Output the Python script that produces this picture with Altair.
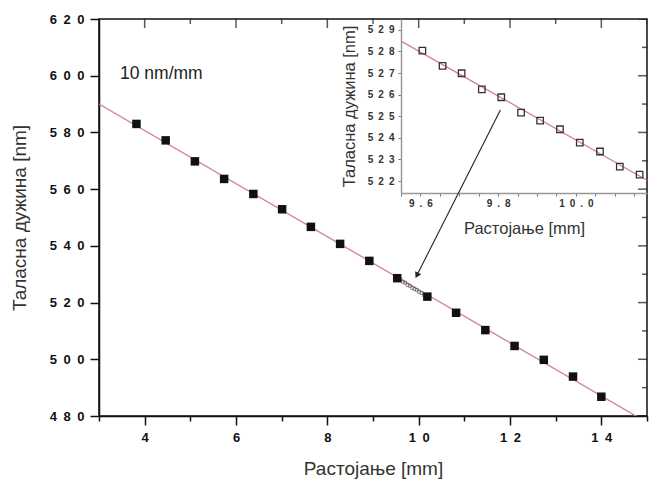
import altair as alt
import pandas as pd

# ---- data ----
main_x = [3.82, 4.46, 5.10, 5.74, 6.38, 7.01, 7.64, 8.28, 8.92, 9.53,
          10.19, 10.82, 11.46, 12.10, 12.74, 13.38, 14.00]
main_y = [583.0, 577.2, 569.8, 563.6, 558.3, 552.9, 546.7, 540.7, 534.7, 528.6,
          522.1, 516.4, 510.3, 504.7, 499.8, 493.9, 486.8]

inset_x = [9.605, 9.657, 9.706, 9.758, 9.808, 9.859, 9.908, 9.959,
           10.010, 10.062, 10.113, 10.164]
inset_y = [528.04, 527.33, 526.99, 526.24, 525.88, 525.17, 524.80, 524.40,
           523.78, 523.37, 522.67, 522.30]

main_xticks = [3, 4, 5, 6, 7, 8, 9, 10, 11, 12, 13, 14, 15]
main_yticks = [480, 490, 500, 510, 520, 530, 540, 550, 560, 570, 580, 590, 600, 610, 620]
inset_xticks = [9.55, 9.60, 9.65, 9.70, 9.75, 9.80, 9.85, 9.90, 9.95, 10.00, 10.05, 10.10, 10.15]
inset_yticks = [522, 523, 524, 525, 526, 527, 528, 529]

annotation_text = ["10 nm/mm"]
annotation_x = [3.46]
annotation_y = [600.6]

arrow_from = [11.79, 587.9]
arrow_to = [9.97, 529.9]

main_xdomain = [3, 15]
main_ydomain = [480, 620]
inset_xdomain = [9.55, 10.183]
inset_ydomain = [521.45, 529.5]

W, H = 548, 397
INSET_LEFT = 302
INSET_BOTTOM = 174

FONT = "Liberation Sans"
SP = "\u2002"
LINE_COLOR = "#d4808e"

main_df = pd.DataFrame({"x": main_x, "y": main_y})
inset_df = pd.DataFrame({"x": inset_x, "y": inset_y})
text_df = pd.DataFrame({"x": annotation_x, "y": annotation_y, "t": annotation_text})
arrow_df = pd.DataFrame({"x": [arrow_from[0]], "y": [arrow_from[1]],
                         "x2": [arrow_to[0]], "y2": [arrow_to[1]]})
xt_df = pd.DataFrame({"x": main_xticks,
                      "len": [18 if v % 2 == 0 else 10 for v in main_xticks]})
yt_df = pd.DataFrame({"y": main_yticks,
                      "len": [18 if v % 20 == 0 else 10 for v in main_yticks]})

mxs = alt.Scale(domain=main_xdomain, nice=False, zero=False)
mys = alt.Scale(domain=main_ydomain, nice=False, zero=False)

x_axis = alt.Axis(
    title="Растојање [mm]", values=main_xticks, grid=False,
    labelExpr=f"datum.value % 2 === 0 && datum.value > 3 && datum.value < 15 ? join(split(datum.label, ''), '{SP}') : ''",
    tickSize={"condition": {"test": "datum.value % 2 === 0", "value": 9}, "value": 5},
    tickWidth=1.5, tickColor="#111", domainColor="#111", domainWidth=1.5,
    labelFont=FONT, labelFontSize=13, labelFontWeight="bold", labelColor="#111",
    labelPadding=6, titleFont=FONT, titleFontSize=19, titleFontWeight="normal",
    titleColor="#333", titlePadding=15,
)
y_axis = alt.Axis(
    title="Таласна дужина [nm]", values=main_yticks, grid=False,
    labelExpr=f"datum.value % 20 === 0 ? join(split(datum.label, ''), '{SP}') : ''",
    tickSize={"condition": {"test": "datum.value % 20 === 0", "value": 9}, "value": 5},
    tickWidth=1.5, tickColor="#111", domainColor="#111", domainWidth=1.5,
    labelFont=FONT, labelFontSize=13, labelFontWeight="bold", labelColor="#111",
    labelPadding=6, titleFont=FONT, titleFontSize=19, titleFontWeight="normal",
    titleColor="#333", titlePadding=20,
)

main_line = alt.Chart(main_df).transform_regression(
    "x", "y", extent=main_xdomain
).mark_line(color=LINE_COLOR, strokeWidth=1.3, clip=True).encode(
    x=alt.X("x:Q", scale=mxs),
    y=alt.Y("y:Q", scale=mys),
)
main_pts = alt.Chart(main_df).mark_square(size=72, color="#111", opacity=1).encode(
    x=alt.X("x:Q", scale=mxs, axis=x_axis),
    y=alt.Y("y:Q", scale=mys, axis=y_axis),
)
small_pts = alt.Chart(inset_df).mark_point(
    shape="square", size=9, filled=False, color="#555", strokeWidth=0.9
).encode(
    x=alt.X("x:Q", scale=mxs),
    y=alt.Y("y:Q", scale=mys),
)
arrow = alt.Chart(arrow_df).mark_rule(color="#222", strokeWidth=1.1).encode(
    x=alt.X("x:Q", scale=mxs), y=alt.Y("y:Q", scale=mys),
    x2="x2:Q", y2="y2:Q",
)
arrow_head = alt.Chart(arrow_df).mark_point(
    shape="triangle", size=45, filled=True, color="#222", angle=207, opacity=1
).encode(
    x=alt.X("x2:Q", scale=mxs), y=alt.Y("y2:Q", scale=mys),
)
label = alt.Chart(text_df).mark_text(
    align="left", baseline="middle", font=FONT, fontSize=17.5, color="#222"
).encode(
    x=alt.X("x:Q", scale=mxs), y=alt.Y("y:Q", scale=mys),
    text="t:N",
)
top_ticks = alt.Chart(xt_df).mark_tick(color="#111", thickness=1.5, clip=True).encode(
    x=alt.X("x:Q", scale=mxs), y=alt.value(0),
    size=alt.Size("len:Q", scale=None, legend=None),
)
right_ticks = alt.Chart(yt_df).mark_tick(color="#111", thickness=1.5, clip=True).encode(
    y=alt.Y("y:Q", scale=mys), x=alt.value(W),
    size=alt.Size("len:Q", scale=None, legend=None),
)

main_layer = alt.layer(main_line, small_pts, main_pts, arrow, arrow_head, label,
                       top_ticks, right_ticks)

# ---- inset ----
ixs = alt.Scale(domain=inset_xdomain, range=[INSET_LEFT, W], nice=False, zero=False)
iys = alt.Scale(domain=inset_ydomain, range=[INSET_BOTTOM, 0], nice=False, zero=False)

ix_axis = alt.Axis(
    orient="bottom", offset=-(H - INSET_BOTTOM), title="Растојање [mm]",
    values=inset_xticks, format=".2f", grid=False,
    labelExpr=f"abs(datum.value * 5 - round(datum.value * 5)) < 0.001 ? join(split(format(datum.value, '.1f'), ''), '{SP}') : ''",
    tickSize=3, tickWidth=1, tickColor="#777", domainColor="#999", domainWidth=1.5,
    labelFont=FONT, labelFontSize=10, labelFontWeight="bold", labelColor="#333",
    labelPadding=2, titleFont=FONT, titleFontSize=16.5, titleFontWeight="normal",
    titleColor="#333", titlePadding=12,
)
iy_axis = alt.Axis(
    orient="left", offset=-INSET_LEFT, title="Таласна дужина [nm]",
    values=inset_yticks, grid=False,
    labelExpr=f"join(split(datum.label, ''), '{SP}')",
    tickSize=3, tickWidth=1, tickColor="#777", domainColor="#999", domainWidth=1.5,
    labelFont=FONT, labelFontSize=10, labelFontWeight="bold", labelColor="#333",
    labelPadding=4, titleFont=FONT, titleFontSize=16.5, titleFontWeight="normal",
    titleColor="#333", titlePadding=10,
)

inset_line = alt.Chart(inset_df).transform_regression(
    "x", "y", extent=inset_xdomain
).mark_line(color=LINE_COLOR, strokeWidth=1.3).encode(
    x=alt.X("x:Q", scale=ixs),
    y=alt.Y("y:Q", scale=iys),
)
inset_pts = alt.Chart(inset_df).mark_point(
    shape="square", size=42, filled=False, color="#333", strokeWidth=1.3, opacity=1
).encode(
    x=alt.X("x:Q", scale=ixs, axis=ix_axis),
    y=alt.Y("y:Q", scale=iys, axis=iy_axis),
)
inset_layer = alt.layer(inset_line, inset_pts)

chart = alt.layer(main_layer, inset_layer).resolve_scale(
    x="independent", y="independent"
).properties(
    width=W, height=H,
    autosize=alt.AutoSizeParams(type="none"),
    padding={"left": 99, "top": 19, "right": 2, "bottom": 65},
    background="white",
).configure_view(stroke="#111", strokeWidth=1.5)

chart.save("out.html", embed_options={"renderer": "svg", "actions": False})
